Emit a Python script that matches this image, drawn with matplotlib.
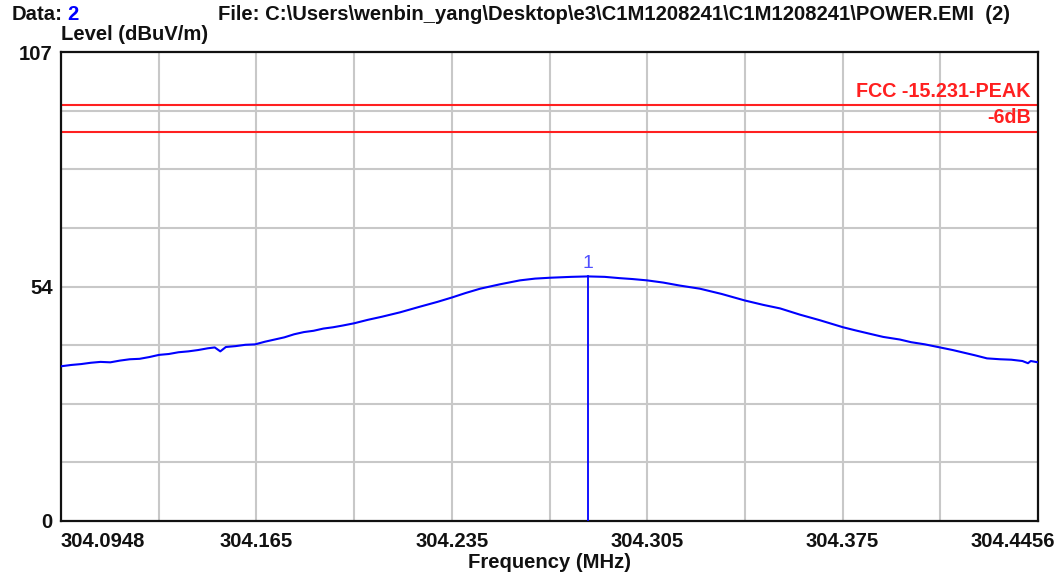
import matplotlib
matplotlib.use("Agg")
import matplotlib.pyplot as plt
from matplotlib.transforms import ScaledTranslation

# ---------------- data ----------------
freq_mhz = [
    304.0948, 304.0985, 304.1020, 304.1055, 304.1090, 304.1125, 304.1160, 304.1195,
    304.1230, 304.1265, 304.1300, 304.1335, 304.1370, 304.1405, 304.1440, 304.1475,
    304.1500, 304.1520, 304.1540, 304.1575, 304.1610, 304.1645, 304.1680, 304.1715,
    304.1750, 304.1785, 304.1820, 304.1855, 304.1890, 304.1925, 304.1960, 304.2000,
    304.2050, 304.2100, 304.2165, 304.2237, 304.2300, 304.2352, 304.2400, 304.2453,
    304.2524, 304.2596, 304.2650, 304.2704, 304.2780, 304.2840, 304.2900, 304.2955,
    304.3000, 304.3052, 304.3110, 304.3171, 304.3242, 304.3320, 304.3404, 304.3470,
    304.3530, 304.3600, 304.3673, 304.3756, 304.3800, 304.3853, 304.3900, 304.3960,
    304.4000, 304.4050, 304.4104, 304.4150, 304.4190, 304.4230, 304.4273, 304.4320,
    304.4360, 304.4400, 304.4420, 304.4430, 304.4456,
]
level_dbuv = [
    35.3, 35.6, 35.8, 36.1, 36.3, 36.2, 36.6, 36.9,
    37.0, 37.4, 37.9, 38.1, 38.5, 38.7, 39.0, 39.4,
    39.6, 38.7, 39.7, 39.9, 40.2, 40.3, 40.9, 41.4,
    41.9, 42.6, 43.1, 43.4, 43.9, 44.2, 44.6, 45.1,
    45.9, 46.6, 47.6, 48.9, 50.0, 51.0, 52.0, 53.0,
    54.0, 54.9, 55.3, 55.5, 55.7, 55.8, 55.7, 55.4,
    55.2, 54.9, 54.4, 53.7, 53.0, 51.8, 50.3, 49.3,
    48.5, 47.1, 45.8, 44.2, 43.5, 42.7, 42.0, 41.4,
    40.8, 40.3, 39.6, 39.0, 38.4, 37.8, 37.1, 36.9,
    36.8, 36.5, 36.0, 36.5, 36.2,
]
limit_names = ["FCC -15.231-PEAK", "-6dB"]
limit_levels = [94.8, 88.8]
marker_freq = 304.2840
marker_level = 55.8
marker_label = "1"

x_min, x_max = 304.0948, 304.4456
y_min, y_max = 0, 107
x_tick_labels = ["304.0948", "304.165", "304.235", "304.305", "304.375", "304.4456"]
y_tick_values = [0, 53.5, 107]
y_tick_labels = ["0", "54", "107"]

header_data_label = "Data:"
header_data_value = "2"
header_file = r"File: C:\Users\wenbin_yang\Desktop\e3\C1M1208241\C1M1208241\POWER.EMI  (2)"
y_title = "Level (dBuV/m)"
x_title = "Frequency (MHz)"

# ---------------- figure ----------------
plt.rcParams["font.family"] = ["Liberation Sans", "DejaVu Sans"]
FS = 14.6
fig = plt.figure(figsize=(10.57, 5.77), dpi=100)
ax = fig.add_axes([61 / 1057, 1 - 521 / 577, (1038 - 61) / 1057, (521 - 52) / 577])

ax.set_xlim(x_min, x_max)
ax.set_ylim(y_min, y_max)

# grid: 10 vertical divisions, 8 horizontal divisions
n_vx, n_hy = 10, 8
dx = (x_max - x_min) / n_vx
dy = (y_max - y_min) / n_hy
for i in range(1, n_vx):
    ax.axvline(x_min + i * dx, color="#c8c8c8", lw=1.5, zorder=1)
for j in range(1, n_hy):
    ax.axhline(y_min + j * dy, color="#c8c8c8", lw=1.5, zorder=1)

# limit lines
for lvl, name in zip(limit_levels, limit_names):
    ax.axhline(lvl, color="#ff2020", lw=1.5, zorder=2)
    ax.text(x_max - 0.0075 * (x_max - x_min), lvl + 1.0, name, color="#ff2020",
            fontsize=14.2, fontweight="bold", ha="right", va="bottom", zorder=3)

# trace
ax.plot(freq_mhz, level_dbuv, color="#0000ff", lw=1.5, zorder=4)

# marker
ax.plot([marker_freq, marker_freq], [y_min, marker_level], color="#0000ff", lw=1.3, zorder=4)
ax.text(marker_freq, marker_level + 1.0, marker_label, color="#5050ff", fontsize=14,
        ha="center", va="bottom", zorder=5)

# ticks
xt = [x_min + k * 2 * dx for k in range(6)]
ax.set_xticks(xt)
ax.set_xticklabels(x_tick_labels)
ax.set_yticks(y_tick_values)
ax.set_yticklabels(y_tick_labels)
ax.tick_params(axis="both", length=0, labelsize=FS, colors="#111111")
ax.tick_params(axis="x", pad=8)
ax.tick_params(axis="y", pad=6)
for lab in ax.get_xticklabels() + ax.get_yticklabels():
    lab.set_fontweight("bold")
xl = ax.get_xticklabels()
xl[0].set_ha("left")
xl[-1].set_ha("right")
xl[-1].set_transform(xl[-1].get_transform() + ScaledTranslation(17 / 100, 0, fig.dpi_scale_trans))

for s in ax.spines.values():
    s.set_color("#111111")
    s.set_linewidth(1.6)

# titles
fig.text(12 / 1057, 1 - 15 / 577, header_data_label, fontsize=FS, fontweight="bold",
         color="#111111", ha="left", va="center")
fig.text(67 / 1057, 1 - 15 / 577, header_data_value, fontsize=FS, fontweight="bold",
         color="#0000ff", ha="left", va="center")
fig.text(218 / 1057, 1 - 15 / 577, header_file, fontsize=FS, fontweight="bold",
         color="#111111", ha="left", va="center")
fig.text(61 / 1057, 1 - 34 / 577, y_title, fontsize=FS, fontweight="bold",
         color="#111111", ha="left", va="center")
fig.text(549 / 1057, 1 - 563 / 577, x_title, fontsize=FS, fontweight="bold",
         color="#111111", ha="center", va="center")

fig.savefig("out.png", dpi=100, facecolor="white")
